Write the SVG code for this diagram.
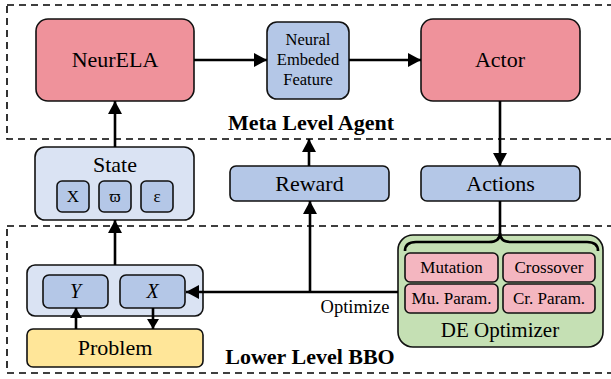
<svg xmlns="http://www.w3.org/2000/svg" width="611" height="379" viewBox="0 0 611 379" font-family="Liberation Serif, Times New Roman, serif">
<defs>
<marker id="ah" markerUnits="userSpaceOnUse" markerWidth="14" markerHeight="14" refX="13" refY="7" orient="auto">
<path d="M0,0 L13,7 L0,14 z" fill="#000"/>
</marker>
<marker id="ahs" markerUnits="userSpaceOnUse" markerWidth="11" markerHeight="12" refX="10" refY="6" orient="auto">
<path d="M0,0 L10,6 L0,12 z" fill="#000"/>
</marker>
</defs>
<style>
text{font-family:'Liberation Serif','Times New Roman',serif;fill:#000;text-anchor:middle}
.box{stroke:#111;stroke-width:1.6}
.pink{fill:#ef929b}
.blue{fill:#b4c7e7}
.light{fill:#dae3f3}
.yellow{fill:#ffe699}
.green{fill:#c5e0b4}
.rose{fill:#f4b6c0}
.dash{fill:none;stroke:#000;stroke-width:1.6;stroke-dasharray:7,5}
.conn{fill:none;stroke:#000;stroke-width:2.6}
.t22{font-size:22px}
.t17{font-size:17px}
.bold{font-weight:bold}
</style>
<rect class="dash" x="7" y="5" width="620" height="134"/>
<rect class="dash" x="7" y="226" width="620" height="147"/>
<text class="t22 bold" x="311" y="130">Meta Level Agent</text>
<text class="t22 bold" x="310" y="364">Lower Level BBO</text>

<g id="neurela">
<rect class="box pink" x="36" y="19" width="158" height="82" rx="12"/>
<text class="t22" x="115" y="67">NeurELA</text>
</g>
<g id="nef">
<rect class="box blue" x="267" y="22" width="82" height="77" rx="10"/>
<text style="font-size:16.5px" x="308" y="45">Neural</text>
<text style="font-size:16.5px" x="308" y="65">Embeded</text>
<text style="font-size:16.5px" x="308" y="85">Feature</text>
</g>
<g id="actor">
<rect class="box pink" x="421" y="19" width="159" height="82" rx="12"/>
<text class="t22" x="500" y="67">Actor</text>
</g>
<g id="state">
<rect class="box light" x="35" y="147" width="159" height="73" rx="10"/>
<text class="t22" x="115" y="172">State</text>
<rect class="box blue" x="57" y="181" width="32" height="31" rx="5" stroke-width="1.2"/>
<text class="t17" x="73" y="202">X</text>
<rect class="box blue" x="99" y="181" width="32" height="31" rx="5" stroke-width="1.2"/>
<text class="t17" x="115" y="202">ϖ</text>
<rect class="box blue" x="141" y="181" width="32" height="31" rx="5" stroke-width="1.2"/>
<text class="t17" x="157" y="202">ε</text>
</g>
<g id="reward">
<rect class="box blue" x="230" y="166" width="159" height="35" rx="6"/>
<text class="t22" x="309.5" y="191">Reward</text>
</g>
<g id="actions">
<rect class="box blue" x="421" y="166" width="159" height="35" rx="6"/>
<text class="t22" x="500.5" y="191">Actions</text>
</g>
<g id="population">
<rect class="box light" x="27" y="265" width="176" height="51" rx="8"/>
<rect class="box blue" x="43" y="275" width="65" height="33" rx="6" stroke-width="1.2"/>
<text style="font-size:20px;font-style:italic" x="75.5" y="298">Y</text>
<rect class="box blue" x="120" y="275" width="65" height="33" rx="6" stroke-width="1.2"/>
<text style="font-size:20px;font-style:italic" x="152.5" y="298">X</text>
</g>
<g id="problem">
<rect class="box yellow" x="27" y="329" width="176" height="38" rx="6" stroke-width="1.2"/>
<text class="t22" x="115" y="355">Problem</text>
</g>
<g id="de-optimizer">
<rect class="box green" x="398" y="235" width="205" height="112" rx="15"/>
<rect class="box rose" x="405" y="253" width="93" height="29" rx="5" stroke-width="1.2"/>
<text class="t17" x="451.5" y="273">Mutation</text>
<rect class="box rose" x="503" y="253" width="92" height="29" rx="5" stroke-width="1.2"/>
<text class="t17" x="549" y="273">Crossover</text>
<rect class="box rose" x="405" y="284" width="93" height="29" rx="5" stroke-width="1.2"/>
<text class="t17" x="451.5" y="304">Mu. Param.</text>
<rect class="box rose" x="503" y="284" width="92" height="29" rx="5" stroke-width="1.2"/>
<text class="t17" x="549" y="304">Cr. Param.</text>
<text style="font-size:21px" x="500" y="337">DE Optimizer</text>
</g>

<g id="connectors">
<path class="conn" d="M194,60 L267,60" marker-end="url(#ah)"/>
<path class="conn" d="M349,60 L421,60" marker-end="url(#ah)"/>
<path class="conn" d="M500,101 L500,166" marker-end="url(#ah)"/>
<path class="conn" d="M115,147 L115,101" marker-end="url(#ah)"/>
<path class="conn" d="M309,166 L309,139" marker-end="url(#ah)"/>
<path class="conn" d="M115,265 L115,220" marker-end="url(#ah)"/>
<path class="conn" d="M76,329 L76,308" marker-end="url(#ahs)"/>
<path class="conn" d="M153,308 L153,329" marker-end="url(#ahs)"/>
<path class="conn" d="M398,292 L186,292" marker-end="url(#ah)"/>
<path class="conn" d="M310,292 L310,201" marker-end="url(#ah)"/>
<path class="conn" d="M500,201 L500,234"/>
<path class="conn" d="M405,251 Q405,242 416,242 L489,242 Q500,242 500,233 Q500,242 511,242 L587,242 Q598,242 598,251"/>
<text style="font-size:18.5px" x="355" y="313">Optimize</text>
</g>
</svg>
